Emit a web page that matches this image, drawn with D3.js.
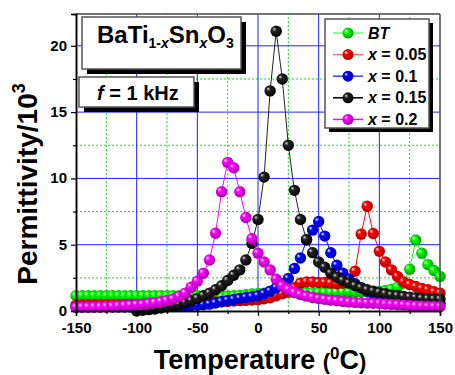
<!DOCTYPE html>
<meta charset="utf-8">
<script src="https://d3js.org/d3.v7.min.js"></script>
<style>
body { margin: 0; background: #fff; }
text { font-family: Arial, "Liberation Sans", sans-serif; font-weight: bold; }
</style>
<div id="chart"></div>
<script>

// temperature (C) of each measured point
var temps = [-150,-145,-140,-135,-130,-125,-120,-115,-110,-105,-100,-95,-90,-85,-80,-75,-70,-65,-60,-55,
  -50,-45,-40,-35,-30,-25,-20,-15,-10,-5,0,5,10,15,20,25,30,35,40,45,50,55,60,65,70,75,80,85,90,95,
  100,105,110,115,120,125,130,135,140,145,150];

// permittivity / 10^3
var bt = [1.15,1.15,1.15,1.15,1.15,1.15,1.15,1.15,1.15,1.15,1.15,1.15,1.15,1.15,1.15,1.15,1.15,1.15,1.15,1.15,
  1.15,1.14,1.13,1.12,1.12,1.13,1.15,1.18,1.22,1.28,1.32,1.35,1.36,1.37,1.38,1.39,1.4,1.4,1.4,1.4,
  1.4,1.4,1.4,1.41,1.42,1.43,1.44,1.45,1.46,1.47,1.48,1.55,1.65,1.8,2.1,3.15,5.35,4.35,3.5,3.05,2.6];
var x005 = [0.45,0.45,0.45,0.45,0.45,0.45,0.46,0.46,0.47,0.47,0.48,0.49,0.5,0.51,0.52,0.53,0.55,0.56,0.58,0.6,
  0.62,0.64,0.66,0.68,0.7,0.72,0.75,0.78,0.8,0.83,0.86,0.92,1.0,1.15,1.3,1.5,1.75,2.1,2.2,2.2,
  2.15,2.15,2.1,2.05,2.1,2.25,3.0,5.8,7.9,5.85,4.5,3.7,3.1,2.6,2.2,2.0,1.85,1.7,1.6,1.45,1.35];
var x01 = [0.3,0.3,0.3,0.3,0.3,0.3,0.3,0.3,0.3,0.3,0.3,0.3,0.32,0.33,0.34,0.35,0.36,0.37,0.38,0.4,
  0.43,0.47,0.52,0.6,0.7,0.8,0.87,0.95,1.02,1.08,1.15,1.3,1.5,1.75,2.05,2.45,3.2,4.0,5.35,6.1,
  6.75,5.65,4.4,3.45,2.85,2.4,2.05,1.75,1.5,1.3,1.15,1.0,0.9,0.82,0.75,0.7,0.66,0.63,0.6,0.58,0.56];
var x015 = [null,null,null,null,null,null,null,null,null,null,0.0,0.05,0.1,0.15,0.22,0.3,0.4,0.5,0.62,0.78,
  0.95,1.15,1.35,1.6,1.9,2.3,2.7,3.1,3.85,5.1,6.9,10.1,16.6,21.1,17.5,12.5,9.1,6.9,5.4,4.4,
  3.7,3.3,2.85,2.55,2.3,2.1,1.9,1.75,1.6,1.5,1.4,1.3,1.2,1.15,1.1,1.05,1.0,0.95,0.92,0.9,0.88];
var x02 = [0.28,0.29,0.3,0.31,0.32,0.34,0.36,0.38,0.41,0.44,0.48,0.52,0.57,0.63,0.7,0.78,0.9,1.1,1.35,1.8,
  2.25,2.85,3.85,5.86,9.0,11.2,10.8,9.0,7.05,5.45,4.35,3.7,3.1,2.4,1.9,1.62,1.4,1.25,1.12,1.02,
  0.95,0.88,0.82,0.77,0.72,0.68,0.65,0.62,0.6,0.58,0.56,0.53,0.5,0.47,0.44,0.41,0.39,0.37,0.35,0.34,0.33];

var seriesNames = ["BT", "x = 0.05", "x = 0.1", "x = 0.15", "x = 0.2"];
var seriesValues = [bt, x005, x01, x015, x02];
var colors = ["#00ff00", "#ff0000", "#0000ff", "#222222", "#ff00ff"];
var darks = ["#009000", "#a00000", "#0000a0", "#000000", "#a000a0"];
var legendLine = ["#66ff66", "#ff7070", "#4040ff", "#000000", "#ff00ff"];

var xTicks = [-150, -100, -50, 0, 50, 100, 150];
var xMinor = [-125, -75, -25, 25, 75, 125];
var yTicks = [0, 5, 10, 15, 20];
var yMinor = [2.5, 7.5, 12.5, 17.5];

var width = 455, height = 375;

var svg = d3.select("#chart").append("svg")
  .attr("width", width)
  .attr("height", height);

var x = d3.scaleLinear().domain([-150, 150]).range([76, 440]);
var y = d3.scaleLinear().domain([0, 22.4]).range([311, 14]);

// gradients for the shaded ball markers
var defs = svg.append("defs");
colors.forEach(function(c, i) {
  var g = defs.append("radialGradient").attr("id", "ball" + i)
    .attr("cx", "45%").attr("cy", "45%").attr("r", "60%")
    .attr("fx", "30%").attr("fy", "30%");
  g.append("stop").attr("offset", "0%").attr("stop-color", i == 3 ? "#dddddd" : "#ffffff");
  g.append("stop").attr("offset", "30%").attr("stop-color", c);
  g.append("stop").attr("offset", "100%").attr("stop-color", darks[i]);
});

// grid
var grid = svg.append("g");
grid.selectAll(".vmin").data(xMinor).enter().append("line")
  .attr("x1", function(d) { return x(d); }).attr("x2", function(d) { return x(d); })
  .attr("y1", y(0)).attr("y2", y(22.4))
  .attr("stroke", "#00ee00").attr("stroke-dasharray", "2,2");
grid.selectAll(".hmin").data(yMinor).enter().append("line")
  .attr("y1", function(d) { return y(d); }).attr("y2", function(d) { return y(d); })
  .attr("x1", x(-150)).attr("x2", x(150))
  .attr("stroke", "#00ee00").attr("stroke-dasharray", "2,2");
grid.selectAll(".vmaj").data(xTicks.slice(1, -1)).enter().append("line")
  .attr("x1", function(d) { return x(d); }).attr("x2", function(d) { return x(d); })
  .attr("y1", y(0)).attr("y2", y(22.4))
  .attr("stroke", "#2020ff");
grid.selectAll(".hmaj").data(yTicks.slice(1)).enter().append("line")
  .attr("y1", function(d) { return y(d); }).attr("y2", function(d) { return y(d); })
  .attr("x1", x(-150)).attr("x2", x(150))
  .attr("stroke", "#2020ff");

// series
var line = d3.line()
  .defined(function(d) { return d[1] != null; })
  .x(function(d) { return x(d[0]); })
  .y(function(d) { return y(d[1]); });

seriesValues.forEach(function(vals, i) {
  var pts = temps.map(function(t, j) { return [t, vals[j]]; });
  var g = svg.append("g");
  g.append("path").datum(pts)
    .attr("d", line)
    .attr("fill", "none")
    .attr("stroke", colors[i])
    .attr("stroke-width", 1);
  g.selectAll("circle").data(pts.filter(function(d) { return d[1] != null; }))
    .enter().append("circle")
    .attr("cx", function(d) { return x(d[0]); })
    .attr("cy", function(d) { return y(d[1]); })
    .attr("r", 5.7)
    .attr("fill", "url(#ball" + i + ")");
});

// frame
svg.append("line").attr("x1", x(-150)).attr("x2", x(150)).attr("y1", y(22.4)).attr("y2", y(22.4))
  .attr("stroke", "#444").attr("stroke-width", 1.5);
svg.append("line").attr("x1", x(150)).attr("x2", x(150)).attr("y1", y(0)).attr("y2", y(22.4))
  .attr("stroke", "#444").attr("stroke-width", 1.5);

// axes
var xAxis = svg.append("g").attr("transform", "translate(0," + y(0) + ")")
  .call(d3.axisBottom(x).tickValues(xTicks).tickSize(5).tickPadding(6).tickFormat(d3.format("d")));
svg.append("g").attr("transform", "translate(0," + y(0) + ")")
  .call(d3.axisBottom(x).tickValues(xMinor).tickSize(3).tickFormat(""));
var yAxis = svg.append("g").attr("transform", "translate(" + x(-150) + ",0)")
  .call(d3.axisLeft(y).tickValues(yTicks).tickSize(5).tickPadding(4));
svg.append("g").attr("transform", "translate(" + x(-150) + ",0)")
  .call(d3.axisLeft(y).tickValues(yMinor).tickSize(3).tickFormat(""));

svg.selectAll(".domain").attr("stroke", "#000").attr("stroke-width", 1.5);
svg.selectAll(".tick line").attr("stroke", "#000").attr("stroke-width", 1.2);
svg.selectAll(".tick text").style("font-size", "15px").style("font-weight", "bold")
  .style("font-family", "Arial, 'Liberation Sans', sans-serif").attr("fill", "#000");
xAxis.selectAll(".tick text").text(function(d) { return d < 0 ? "-" + Math.abs(d) : d; });
yAxis.selectAll(".tick text").attr("dy", "0.3em");

// axis titles
var xt = svg.append("text").attr("x", 260).attr("y", 369).attr("text-anchor", "middle")
  .style("font-size", "27px");
xt.append("tspan").text("Temperature ");
xt.append("tspan").style("font-size", "22px").text("(");
xt.append("tspan").style("font-size", "17px").attr("dy", -10).text("0");
xt.append("tspan").attr("dy", 10).text("C");
xt.append("tspan").style("font-size", "22px").text(")");

var yt = svg.append("text").attr("transform", "translate(37,184) rotate(-90)")
  .attr("text-anchor", "middle").style("font-size", "28px");
yt.append("tspan").text("Permittivity/10");
yt.append("tspan").style("font-size", "18px").attr("dy", -12).text("3");

// label boxes
function box(x0, y0, w, h, off) {
  svg.append("rect").attr("x", x0 + off).attr("y", y0 + off).attr("width", w).attr("height", h).attr("fill", "#000");
  svg.append("rect").attr("x", x0).attr("y", y0).attr("width", w).attr("height", h)
    .attr("fill", "#fff").attr("stroke", "#555").attr("stroke-width", 1.5);
}

box(82, 17, 159, 52, 5);
var tt = svg.append("text").attr("x", 97).attr("y", 43).style("font-size", "24px");
tt.append("tspan").text("BaTi");
tt.append("tspan").style("font-size", "14px").attr("dy", 5).text("1-");
tt.append("tspan").style("font-size", "14px").style("font-style", "italic").text("x");
tt.append("tspan").attr("dy", -5).text("Sn");
tt.append("tspan").style("font-size", "14px").style("font-style", "italic").attr("dy", 5).text("x");
tt.append("tspan").attr("dy", -5).text("O");
tt.append("tspan").style("font-size", "14px").attr("dy", 5).text("3");

box(79, 77, 115, 30, 5);
var ft = svg.append("text").attr("x", 97).attr("y", 100).style("font-size", "20px");
ft.append("tspan").style("font-style", "italic").text("f");
ft.append("tspan").text(" = 1 kHz");

// legend
box(325, 19, 104, 109, 4);
var leg = svg.append("g");
seriesNames.forEach(function(name, i) {
  var ly = 33 + i * 21.6;
  leg.append("line").attr("x1", 333).attr("x2", 363).attr("y1", ly).attr("y2", ly)
    .attr("stroke", legendLine[i]).attr("stroke-width", 1.5);
  leg.append("circle").attr("cx", 348).attr("cy", ly).attr("r", 5.5).attr("fill", "url(#ball" + i + ")");
  var t = leg.append("text").attr("x", 368).attr("y", ly + 5.5).style("font-size", "16px");
  if (i == 0) {
    t.append("tspan").style("font-style", "italic").text("BT");
  } else {
    t.append("tspan").style("font-style", "italic").text("x");
    t.append("tspan").text(name.slice(1));
  }
});

</script>
